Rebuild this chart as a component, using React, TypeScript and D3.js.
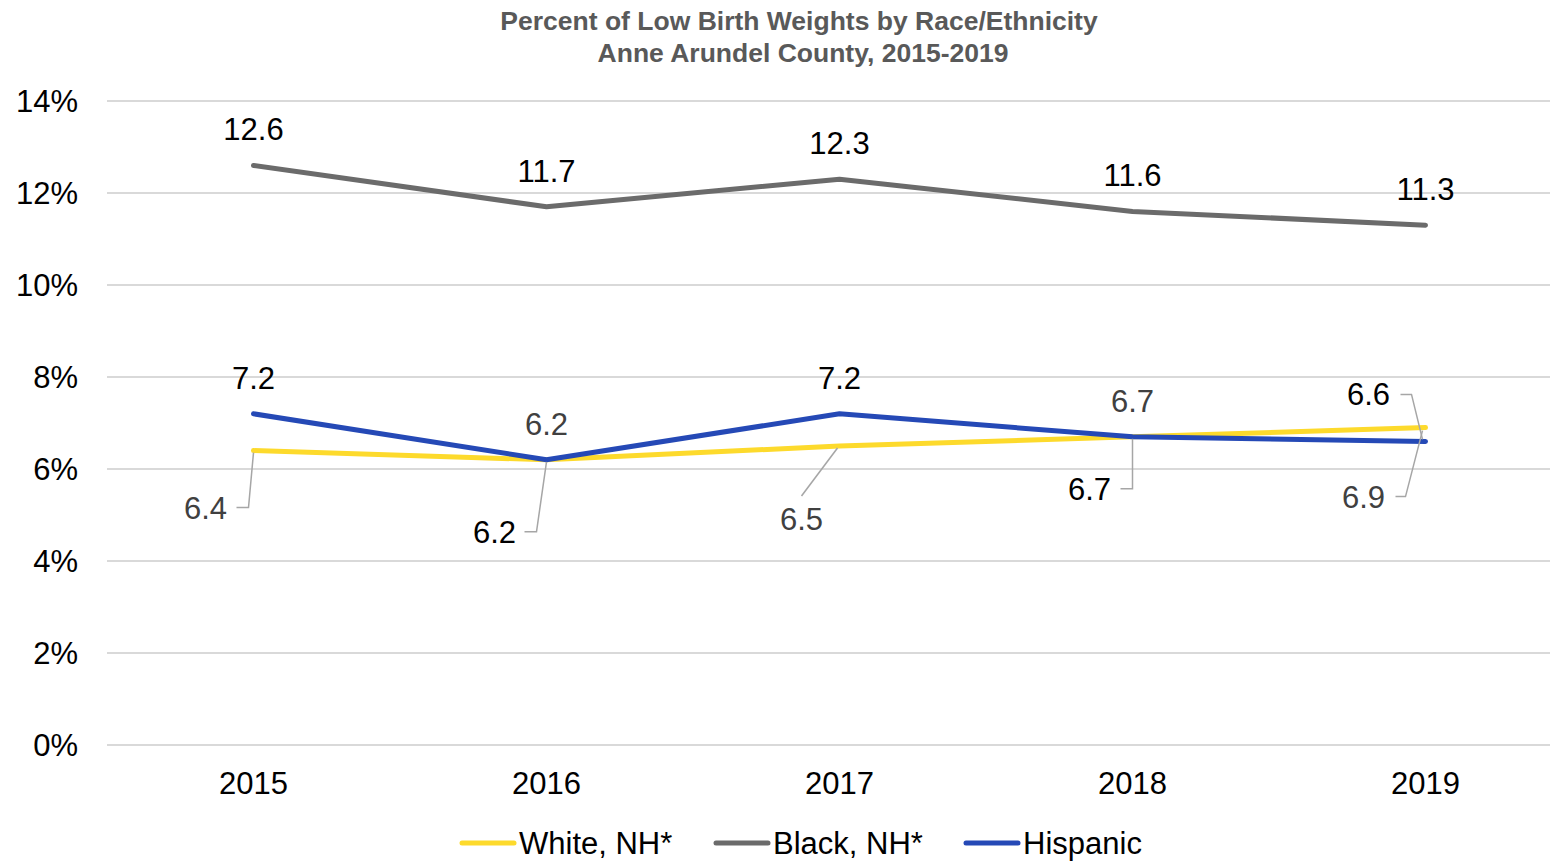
import React from "react";
import * as d3 from "d3";

const years = ["2015", "2016", "2017", "2018", "2019"];
const whiteNH = [6.4, 6.2, 6.5, 6.7, 6.9];
const blackNH = [12.6, 11.7, 12.3, 11.6, 11.3];
const hispanic = [7.2, 6.2, 7.2, 6.7, 6.6];
const yTicks = [0, 2, 4, 6, 8, 10, 12, 14];
const seriesNames = ["White, NH*", "Black, NH*", "Hispanic"];

const W = 1550;
const H = 861;
const FONT = "'Liberation Sans', Arial, sans-serif";
const colors = ["#FDDA2C", "#6B6B6B", "#2549B6"];
const FS = 31;
const OFF = 11; // baseline offset from visual center

// label placement (dx, dy from point, text color, leader path relative to point)
type LabelCfg = { dx: number; dy: number; color: string; leader?: [number, number][] };
const blackLabels: LabelCfg[] = [
  { dx: 0, dy: -36, color: "#000" },
  { dx: 0, dy: -36, color: "#000" },
  { dx: 0, dy: -36, color: "#000" },
  { dx: 0, dy: -36, color: "#000" },
  { dx: 0, dy: -36, color: "#000" },
];
const hispLabels: LabelCfg[] = [
  { dx: 0, dy: -36, color: "#000" },
  { dx: 0, dy: -36, color: "#404040" },
  { dx: 0, dy: -36, color: "#000" },
  { dx: 0, dy: -36, color: "#404040" },
  { dx: -57, dy: -47, color: "#000", leader: [[-25, -47], [-14, -47], [-3, -2]] },
];
const whiteLabels: LabelCfg[] = [
  { dx: -48, dy: 57, color: "#404040", leader: [[-17, 57], [-5, 57], [0, 2]] },
  { dx: -52, dy: 72, color: "#000", leader: [[-22, 72], [-10, 72], [0, 2]] },
  { dx: -38, dy: 73, color: "#404040", leader: [[-38, 50], [-2, 2]] },
  { dx: -43, dy: 52, color: "#000", leader: [[-12, 52], [0, 52], [0, 2]] },
  { dx: -62, dy: 69, color: "#404040", leader: [[-30, 69], [-20, 69], [-3, 3]] },
];

export default function App() {
  const x = d3.scalePoint<string>().domain(years).range([107, 1572]).padding(0.5);
  const y = d3.scaleLinear().domain([0, 14]).range([745, 101]);
  const line = d3
    .line<number>()
    .x((_, i) => x(years[i]) as number)
    .y((d) => y(d));

  const series = [
    { name: seriesNames[0], values: whiteNH, color: colors[0], labels: whiteLabels },
    { name: seriesNames[1], values: blackNH, color: colors[1], labels: blackLabels },
    { name: seriesNames[2], values: hispanic, color: colors[2], labels: hispLabels },
  ];

  const legendX = [462, 716, 966];

  return (
    <svg
      width={W}
      height={H}
      style={{ position: "absolute", left: 0, top: 0, background: "#fff" }}
      fontFamily={FONT}
    >
      <rect width={W} height={H} fill="#fff" />
      <text x={799} y={29.5} textAnchor="middle" fontSize={26.5} fontWeight="bold" fill="#595959">
        Percent of Low Birth Weights by Race/Ethnicity
      </text>
      <text x={803} y={61.5} textAnchor="middle" fontSize={26.5} fontWeight="bold" fill="#595959">
        Anne Arundel County, 2015-2019
      </text>

      {yTicks.map((t) => (
        <g key={t}>
          <line x1={107} x2={1572} y1={y(t)} y2={y(t)} stroke="#D9D9D9" strokeWidth={2} />
          <text x={78} y={y(t) + OFF} textAnchor="end" fontSize={FS} fill="#000">
            {t}%
          </text>
        </g>
      ))}

      {years.map((yr) => (
        <text key={yr} x={x(yr)} y={783 + OFF} textAnchor="middle" fontSize={FS} fill="#000">
          {yr}
        </text>
      ))}

      {series.map((s) => (
        <path
          key={s.name}
          d={line(s.values) || ""}
          fill="none"
          stroke={s.color}
          strokeWidth={5}
          strokeLinejoin="round"
          strokeLinecap="round"
        />
      ))}

      {series.map((s) =>
        s.values.map((v, i) => {
          const px = x(years[i]) as number;
          const py = y(v);
          const cfg = s.labels[i];
          return (
            <g key={s.name + i}>
              {cfg.leader && (
                <polyline
                  points={cfg.leader.map(([a, b]) => `${px + a},${py + b}`).join(" ")}
                  fill="none"
                  stroke="#A6A6A6"
                  strokeWidth={1.5}
                />
              )}
              <text
                x={px + cfg.dx}
                y={py + cfg.dy + OFF}
                textAnchor="middle"
                fontSize={FS}
                fill={cfg.color}
              >
                {v.toFixed(1)}
              </text>
            </g>
          );
        })
      )}

      {series.map((s, i) => (
        <g key={"lg" + s.name}>
          <line
            x1={legendX[i]}
            x2={legendX[i] + 52}
            y1={843}
            y2={843}
            stroke={s.color}
            strokeWidth={5}
            strokeLinecap="round"
          />
          <text x={legendX[i] + 57} y={843 + OFF} fontSize={FS} fill="#000">
            {s.name}
          </text>
        </g>
      ))}
    </svg>
  );
}
